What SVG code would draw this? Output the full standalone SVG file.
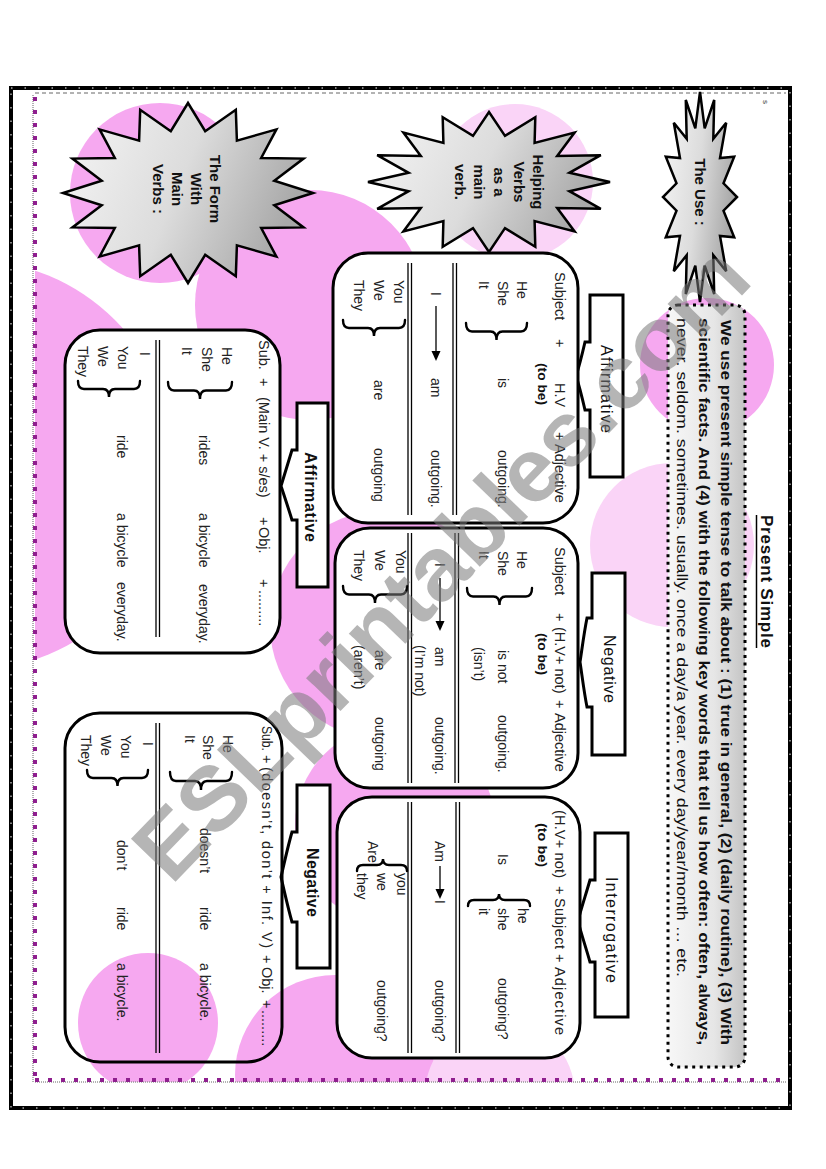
<svg xmlns="http://www.w3.org/2000/svg" width="826" height="1169" viewBox="0 0 826 1169">
<defs>
<linearGradient id="gStar" x1="0" y1="0" x2="1" y2="0.3"><stop offset="0" stop-color="#f6f6f6"/><stop offset="0.55" stop-color="#dcdcdc"/><stop offset="1" stop-color="#a9a9a9"/></linearGradient>
<linearGradient id="gBox" x1="0" y1="0" x2="1" y2="0"><stop offset="0" stop-color="#f7f7f7"/><stop offset="0.6" stop-color="#e6e6e6"/><stop offset="1" stop-color="#c4c4c4"/></linearGradient>
<style>
.r{font-family:"Liberation Sans",Arial,sans-serif;font-size:14px;fill:#222}
.h{font-family:"Liberation Sans",Arial,sans-serif;font-size:14.5px;fill:#222}
.tb{font-family:"Liberation Sans",Arial,sans-serif;font-size:12px;font-weight:bold;fill:#111}
.lb{font-family:"Liberation Sans",Arial,sans-serif;font-size:16px;fill:#111}
.lbb{font-family:"Liberation Sans",Arial,sans-serif;font-size:16px;font-weight:bold;fill:#111}
.st{font-family:"Liberation Sans",Arial,sans-serif;font-size:15px;font-weight:bold;fill:#111;text-anchor:middle}
.pb{font-family:"Liberation Sans",Arial,sans-serif;font-size:14.5px;font-weight:bold;fill:#111}
.pn{font-family:"Liberation Sans",Arial,sans-serif;font-size:15px;fill:#111}
.ti{font-family:"Liberation Sans",Arial,sans-serif;font-size:17px;font-weight:bold;fill:#111}
.box{fill:#fff;stroke:#000;stroke-width:3}
.lab{fill:#fff;stroke:#000;stroke-width:3;stroke-linejoin:miter}
.star{fill:url(#gStar);stroke:#000;stroke-width:2.5;stroke-linejoin:miter}
.dl{stroke:#000;stroke-width:1.3}
.br{fill:none;stroke:#000;stroke-width:2.4;stroke-linecap:round}
.pk{fill:#f6a8f0}
.lp{fill:#fad4f7}
.wm{font-family:"Liberation Sans",Arial,sans-serif;font-size:90px;font-weight:bold;fill:#7a7a7a;opacity:0.55;text-anchor:middle}
</style>
</defs>
<rect width="826" height="1169" fill="#fff"/>
<g id="background">
<circle class="pk" cx="160" cy="193" r="90"/>
<circle class="pk" cx="310" cy="305" r="115"/>
<circle class="lp" cx="515" cy="182" r="78"/>
<circle class="pk" cx="707" cy="365" r="67"/>
<circle class="lp" cx="672" cy="545" r="82"/>
<circle class="pk" cx="-30" cy="465" r="205"/>
<circle class="pk" cx="385" cy="625" r="115"/>
<circle class="pk" cx="395" cy="825" r="100"/>
<circle class="pk" cx="148" cy="1023" r="70"/>
<circle class="pk" cx="335" cy="1075" r="100"/>
<circle class="lp" cx="500" cy="1095" r="75"/>
<rect x="0" y="1082" width="826" height="87" fill="#fff"/>
<rect x="0" y="0" width="35" height="1169" fill="#fff"/>
</g>
<g id="frame">
<rect x="11" y="88" width="779" height="1020" fill="none" stroke="#000" stroke-width="4"/>
<rect x="11" y="88" width="779" height="1020" fill="none" stroke="#fff" stroke-width="1" stroke-dasharray="1.5 12"/>
<line x1="35" y1="93" x2="786" y2="93" stroke="#666" stroke-width="1" stroke-dasharray="4 3"/>
<line x1="33" y1="95" x2="33" y2="1082" stroke="#999" stroke-width="1.5" stroke-dasharray="1 1"/>
<line x1="35" y1="97" x2="35" y2="1080" stroke="#8e1f8e" stroke-width="4" stroke-dasharray="4 9"/>
<line x1="35" y1="1082" x2="786" y2="1082" stroke="#999" stroke-width="1.5" stroke-dasharray="1 1"/>
<line x1="35" y1="1080" x2="786" y2="1080" stroke="#8e1f8e" stroke-width="4" stroke-dasharray="4 9"/>
<text transform="translate(763 0) rotate(90)" font-family="Liberation Sans,Arial,sans-serif" font-size="8" fill="#333"><tspan x="100">s</tspan></text>
</g>
<g id="title">
<text class="ti" transform="translate(761 0) rotate(90)" x="515" textLength="133" lengthAdjust="spacing">Present Simple</text>
<line x1="756.5" y1="515" x2="756.5" y2="648" stroke="#000" stroke-width="1.5"/>
</g>
<g id="use-text">
<rect x="668" y="305" width="77" height="762" rx="10" fill="url(#gBox)" stroke="#000" stroke-width="3" stroke-dasharray="3 4.5"/>
<text class="pb" transform="translate(721 0) rotate(90)" x="320" textLength="725" lengthAdjust="spacingAndGlyphs">We use present simple tense to talk about : (1) true in general, (2) (daily routine), (3) With</text>
<text class="pb" transform="translate(699 0) rotate(90)" x="318" textLength="727" lengthAdjust="spacingAndGlyphs">scientific facts. And (4) with the following key words that tell us how often: often, always,</text>
<text class="pn" transform="translate(677 0) rotate(90)" x="318" textLength="659" lengthAdjust="spacingAndGlyphs">never. seldom. sometimes. usually. once a day/a year. every day/year/month … etc.</text>
</g>
<g id="star-use">
<polygon class="star" points="737,197 723.5,210.7 734.2,237.2 720,235.9 726.2,271.2 713.3,255.2 714.2,294 704.7,265.7 700,302 695.3,265.7 685.8,294 686.7,255.2 673.8,271.2 680,235.9 665.8,237.2 676.5,210.7 663,197 676.5,183.3 665.8,156.8 680,158.1 673.8,122.8 686.7,138.8 685.8,100 695.3,128.3 700,92 704.7,128.3 714.2,100 713.3,138.8 726.2,122.8 720,158.1 734.2,156.8 723.5,183.3"/>
<text class="st" transform="translate(695 0) rotate(90)" x="192">The Use :</text>
</g>
<g id="star-helping">
<polygon class="star" points="610,182 569.4,191.2 600.8,208.8 557.2,208.1 574.6,231.5 534.6,221.1 535.3,246.7 505,228.1 489,252 473,228.1 442.7,246.7 443.4,221.1 403.4,231.5 420.8,208.1 377.2,208.8 408.6,191.2 368,182 408.6,172.8 377.2,155.2 420.8,155.9 403.4,132.5 443.4,142.9 442.7,117.3 473,135.9 489,112 505,135.9 535.3,117.3 534.6,142.9 574.6,132.5 557.2,155.9 600.8,155.2 569.4,172.8"/>
<text class="st" transform="translate(533 0) rotate(90)" x="182">Helping</text>
<text class="st" transform="translate(514 0) rotate(90)" x="182">Verbs</text>
<text class="st" transform="translate(494 0) rotate(90)" x="182">as a</text>
<text class="st" transform="translate(474 0) rotate(90)" x="182">main</text>
<text class="st" transform="translate(455 0) rotate(90)" x="182">verb.</text>
</g>
<g id="star-form">
<polygon class="star" points="313,193 274.3,205.3 303.5,227.4 261.2,228 276.4,256.6 236.9,245.4 235.8,276.2 205.2,254.8 188,283 170.8,254.8 140.2,276.2 139.1,245.4 99.6,256.6 114.8,228 72.5,227.4 101.7,205.3 63,193 101.7,180.7 72.5,158.6 114.8,158 99.6,129.4 139.1,140.6 140.2,109.8 170.8,131.2 188,103 205.2,131.2 235.8,109.8 236.9,140.6 276.4,129.4 261.2,158 303.5,158.6 274.3,180.7"/>
<text class="st" transform="translate(210 0) rotate(90)" x="189">The Form</text>
<text class="st" transform="translate(191 0) rotate(90)" x="189">With</text>
<text class="st" transform="translate(172 0) rotate(90)" x="189">Main</text>
<text class="st" transform="translate(153 0) rotate(90)" x="189">Verbs :</text>
</g>
<g id="label-affirmative-hv">
<path class="lab" d="M590 342 V295 H623 V477 H590 V410 H585 C582 397 579 385 576 376 C579 367 582 355 585 342 Z"/>
<text class="lb" transform="translate(601 0) rotate(90)" x="345" textLength="88" lengthAdjust="spacing">Affirmative</text>
</g>
<g id="label-negative-hv">
<path class="lab" d="M592 618 V573 H625 V755 H592 V707 H587 C584 692 582 675 580 662 C582 649 584 633 587 618 Z"/>
<text class="lb" transform="translate(604 0) rotate(90)" x="635" textLength="68" lengthAdjust="spacing">Negative</text>
</g>
<g id="label-interrogative-hv">
<path class="lab" d="M595 880 V833 H628 V1017 H595 V962 H590 C586 948 581 933 578 921 C581 909 586 894 590 880 Z"/>
<text class="lb" transform="translate(606 0) rotate(90)" x="877" textLength="106" lengthAdjust="spacing">Interrogative</text>
</g>
<g id="label-affirmative-mv">
<path class="lab" d="M297 450 V403 H328 V587 H297 V520 H292 C288 507 284 495 281 486 C284 476 288 463 292 450 Z"/>
<text class="lbb" transform="translate(305 0) rotate(90)" x="452" textLength="90" lengthAdjust="spacing">Affirmative</text>
</g>
<g id="label-negative-mv">
<path class="lab" d="M297 832 V785 H330 V968 H297 V922 H292 C288 908 284 890 281 877 C284 864 288 846 292 832 Z"/>
<text class="lbb" transform="translate(307 0) rotate(90)" x="848" textLength="69" lengthAdjust="spacing">Negative</text>
</g>
<g id="box-affirmative-hv">
<rect class="box" x="333" y="253" width="245" height="270" rx="35"/>
<line class="dl" x1="408" y1="263" x2="408" y2="515"/><line class="dl" x1="411.5" y1="263" x2="411.5" y2="515"/>
<line class="dl" x1="453" y1="263" x2="453" y2="515"/><line class="dl" x1="456.5" y1="263" x2="456.5" y2="515"/>
<text class="h" transform="translate(555 0) rotate(90)"><tspan x="272">Subject</tspan><tspan x="339">+</tspan><tspan x="383">H.V</tspan><tspan x="432">+</tspan><tspan x="444">Adjective</tspan></text>
<text class="tb" transform="translate(538 0) rotate(90)" x="363" textLength="42" lengthAdjust="spacingAndGlyphs">(to be)</text>
<text class="r" transform="translate(517 0) rotate(90)" x="281">He</text>
<text class="r" transform="translate(498 0) rotate(90)"><tspan x="281">She</tspan><tspan x="378">is</tspan><tspan x="450">outgoing.</tspan></text>
<text class="r" transform="translate(479 0) rotate(90)" x="281">It</text>
<path class="br" d="M466 323 Q466 331.5 472 331.5 L490.5 331.5 Q496.5 331.5 496.5 340 Q496.5 331.5 502.5 331.5 L521 331.5 Q527 331.5 527 323"/>
<text class="r" transform="translate(431 0) rotate(90)"><tspan x="292">I</tspan><tspan x="378">am</tspan><tspan x="450">outgoing.</tspan></text>
<text class="r" transform="translate(394 0) rotate(90)" x="280">You</text>
<text class="r" transform="translate(374 0) rotate(90)"><tspan x="280">We</tspan><tspan x="380">are</tspan><tspan x="448">outgoing</tspan></text>
<text class="r" transform="translate(354 0) rotate(90)" x="280">They</text>
<path class="br" d="M343 320 Q343 328 349 328 L368 328 Q374 328 374 336 Q374 328 380 328 L399 328 Q405 328 405 320"/>
</g>
<g id="box-negative-hv">
<rect class="box" x="335" y="528" width="243" height="260" rx="35"/>
<line class="dl" x1="408" y1="533" x2="408" y2="783"/><line class="dl" x1="411.5" y1="533" x2="411.5" y2="783"/>
<line class="dl" x1="455" y1="533" x2="455" y2="783"/><line class="dl" x1="458.5" y1="533" x2="458.5" y2="783"/>
<text class="h" transform="translate(555 0) rotate(90)"><tspan x="547">Subject</tspan><tspan x="613">+</tspan><tspan x="627">(H.V+ not)</tspan><tspan x="700">+</tspan><tspan x="713">Adjective</tspan></text>
<text class="tb" transform="translate(538 0) rotate(90)" x="633" textLength="42" lengthAdjust="spacingAndGlyphs">(to be)</text>
<text class="r" transform="translate(517 0) rotate(90)" x="551">He</text>
<text class="r" transform="translate(498 0) rotate(90)"><tspan x="551">She</tspan><tspan x="650">is not</tspan><tspan x="715">outgoing.</tspan></text>
<text class="r" transform="translate(479 0) rotate(90)" x="551">It</text>
<text class="r" transform="translate(474 0) rotate(90)" x="647">(isn’t)</text>
<path class="br" d="M467 588 Q467 596.5 473 596.5 L493.5 596.5 Q499.5 596.5 499.5 605 Q499.5 596.5 505.5 596.5 L526 596.5 Q532 596.5 532 588"/>
<text class="r" transform="translate(435 0) rotate(90)"><tspan x="563">I</tspan><tspan x="647">am</tspan><tspan x="717">outgoing.</tspan></text>
<text class="r" transform="translate(415 0) rotate(90)" x="645">(I’m not)</text>
<text class="r" transform="translate(396 0) rotate(90)" x="550">You</text>
<text class="r" transform="translate(375 0) rotate(90)"><tspan x="550">We</tspan><tspan x="650">are</tspan><tspan x="717">outgoing</tspan></text>
<text class="r" transform="translate(354 0) rotate(90)"><tspan x="550">They</tspan><tspan x="645">(aren’t)</tspan></text>
<path class="br" d="M343 586 Q343 594.5 349 594.5 L369 594.5 Q375 594.5 375 603 Q375 594.5 381 594.5 L401 594.5 Q407 594.5 407 586"/>
</g>
<g id="box-interrogative-hv">
<rect class="box" x="337" y="797" width="243" height="261" rx="35"/>
<line class="dl" x1="408" y1="802" x2="408" y2="1053"/><line class="dl" x1="411.5" y1="802" x2="411.5" y2="1053"/>
<line class="dl" x1="456" y1="802" x2="456" y2="1053"/><line class="dl" x1="459.5" y1="802" x2="459.5" y2="1053"/>
<text class="h" transform="translate(555 0) rotate(90)" x="810" textLength="68" lengthAdjust="spacing">(H.V+ not)</text>
<text class="h" transform="translate(555 0) rotate(90)"><tspan x="886">+</tspan><tspan x="954">+</tspan></text>
<text class="h" transform="translate(555 0) rotate(90)" x="898" textLength="51" lengthAdjust="spacing">Subject</text>
<text class="h" transform="translate(555 0) rotate(90)" x="967" textLength="68" lengthAdjust="spacing">Adjective</text>
<text class="tb" transform="translate(538 0) rotate(90)" x="823" textLength="44" lengthAdjust="spacingAndGlyphs">(to be)</text>
<text class="r" transform="translate(518 0) rotate(90)" x="908">he</text>
<text class="r" transform="translate(498 0) rotate(90)"><tspan x="854">Is</tspan><tspan x="908">she</tspan><tspan x="978">outgoing?</tspan></text>
<text class="r" transform="translate(479 0) rotate(90)" x="908">it</text>
<path class="br" d="M468 906 Q468 900 474 900 L493 900 Q499 900 499 894 Q499 900 505 900 L524 900 Q530 900 530 906"/>
<text class="r" transform="translate(435 0) rotate(90)"><tspan x="841">Am</tspan><tspan x="900">I</tspan><tspan x="980">outgoing?</tspan></text>
<text class="r" transform="translate(368 0) rotate(90)" x="841">Are</text>
<text class="r" transform="translate(397 0) rotate(90)" x="873">you</text>
<text class="r" transform="translate(377 0) rotate(90)"><tspan x="873">we</tspan><tspan x="980">outgoing?</tspan></text>
<text class="r" transform="translate(357 0) rotate(90)" x="873">they</text>
<path class="br" d="M357 871 Q357 865 363 865 L377 865 Q383 865 383 859 Q383 865 389 865 L401 865 Q407 865 407 871"/>
</g>
<g id="box-affirmative-mv">
<rect class="box" x="65" y="330" width="215" height="323" rx="35"/>
<line class="dl" x1="156" y1="340" x2="156" y2="637"/><line class="dl" x1="159.5" y1="340" x2="159.5" y2="637"/>
<text class="h" transform="translate(259 0) rotate(90)"><tspan x="340">Sub.</tspan><tspan x="378">+</tspan><tspan x="397">(Main V. + s/es)</tspan><tspan x="517">+</tspan><tspan x="527">Obj.</tspan><tspan x="579">+</tspan><tspan x="590">.........</tspan></text>
<text class="r" transform="translate(222 0) rotate(90)" x="347">He</text>
<text class="r" transform="translate(202 0) rotate(90)" x="347">She</text>
<text class="r" transform="translate(182 0) rotate(90)" x="347">It</text>
<text class="r" transform="translate(199 0) rotate(90)"><tspan x="435">rides</tspan><tspan x="513">a bicycle</tspan><tspan x="584">everyday.</tspan></text>
<path class="br" d="M168 382 Q168 390.5 174 390.5 L194 390.5 Q200 390.5 200 399 Q200 390.5 206 390.5 L226 390.5 Q232 390.5 232 382"/>
<text class="r" transform="translate(140 0) rotate(90)" x="352">I</text>
<text class="r" transform="translate(118 0) rotate(90)" x="346">You</text>
<text class="r" transform="translate(98 0) rotate(90)" x="346">We</text>
<text class="r" transform="translate(78 0) rotate(90)" x="346">They</text>
<text class="r" transform="translate(117 0) rotate(90)"><tspan x="435">ride</tspan><tspan x="513">a bicycle</tspan><tspan x="582">everyday.</tspan></text>
<path class="br" d="M78 381 Q78 389 84 389 L103 389 Q109 389 109 397 Q109 389 115 389 L134 389 Q140 389 140 381"/>
</g>
<g id="box-negative-mv">
<rect class="box" x="65" y="713" width="217" height="349" rx="35" style="fill:none"/>
<line class="dl" x1="156" y1="723" x2="156" y2="1053"/><line class="dl" x1="159.5" y1="723" x2="159.5" y2="1053"/>
<text class="h" transform="translate(262 0) rotate(90)"><tspan x="955">+</tspan><tspan x="967">Obj.</tspan><tspan x="1000">+</tspan><tspan x="1010">.........</tspan></text>
<text class="h" transform="translate(262 0) rotate(90)" x="726" textLength="25" lengthAdjust="spacingAndGlyphs">Sub.</text>
<text class="h" transform="translate(262 0) rotate(90)" x="755">+</text>
<text class="h" transform="translate(262 0) rotate(90)" x="767" textLength="181" lengthAdjust="spacing">(doesn’t, don’t + Inf. V)</text>
<text class="r" transform="translate(223 0) rotate(90)" x="735">He</text>
<text class="r" transform="translate(203 0) rotate(90)" x="735">She</text>
<text class="r" transform="translate(185 0) rotate(90)" x="735">It</text>
<text class="r" transform="translate(200 0) rotate(90)"><tspan x="828">doesn’t</tspan><tspan x="907">ride</tspan><tspan x="963">a bicycle.</tspan></text>
<path class="br" d="M170 772 Q170 781 176 781 L195 781 Q201 781 201 790 Q201 781 207 781 L226 781 Q232 781 232 772"/>
<text class="r" transform="translate(143 0) rotate(90)" x="742">I</text>
<text class="r" transform="translate(121 0) rotate(90)" x="735">You</text>
<text class="r" transform="translate(101 0) rotate(90)" x="735">We</text>
<text class="r" transform="translate(81 0) rotate(90)" x="735">They</text>
<text class="r" transform="translate(117 0) rotate(90)"><tspan x="840">don’t</tspan><tspan x="907">ride</tspan><tspan x="963">a bicycle.</tspan></text>
<path class="br" d="M87 770 Q87 778 93 778 L111.5 778 Q117.5 778 117.5 786 Q117.5 778 123.5 778 L142 778 Q148 778 148 770"/>
</g>
<g id="connectors">
<line x1="436" y1="306" x2="436" y2="352" stroke="#000" stroke-width="1.3"/>
<polygon points="436,361 431.5,351 440.5,351" fill="#000"/>
<line x1="440" y1="578" x2="440" y2="622" stroke="#000" stroke-width="1.3"/>
<polygon points="440,631 435.5,621 444.5,621" fill="#000"/>
<line x1="440" y1="866" x2="440" y2="890" stroke="#000" stroke-width="1.3"/>
<polygon points="440,899 435.5,889 444.5,889" fill="#000"/>
</g>
<g id="watermark">
<text class="wm" transform="translate(440 562) rotate(-46)" dy="32" textLength="840" lengthAdjust="spacingAndGlyphs">ESLprintables.com</text>
</g>
</svg>
